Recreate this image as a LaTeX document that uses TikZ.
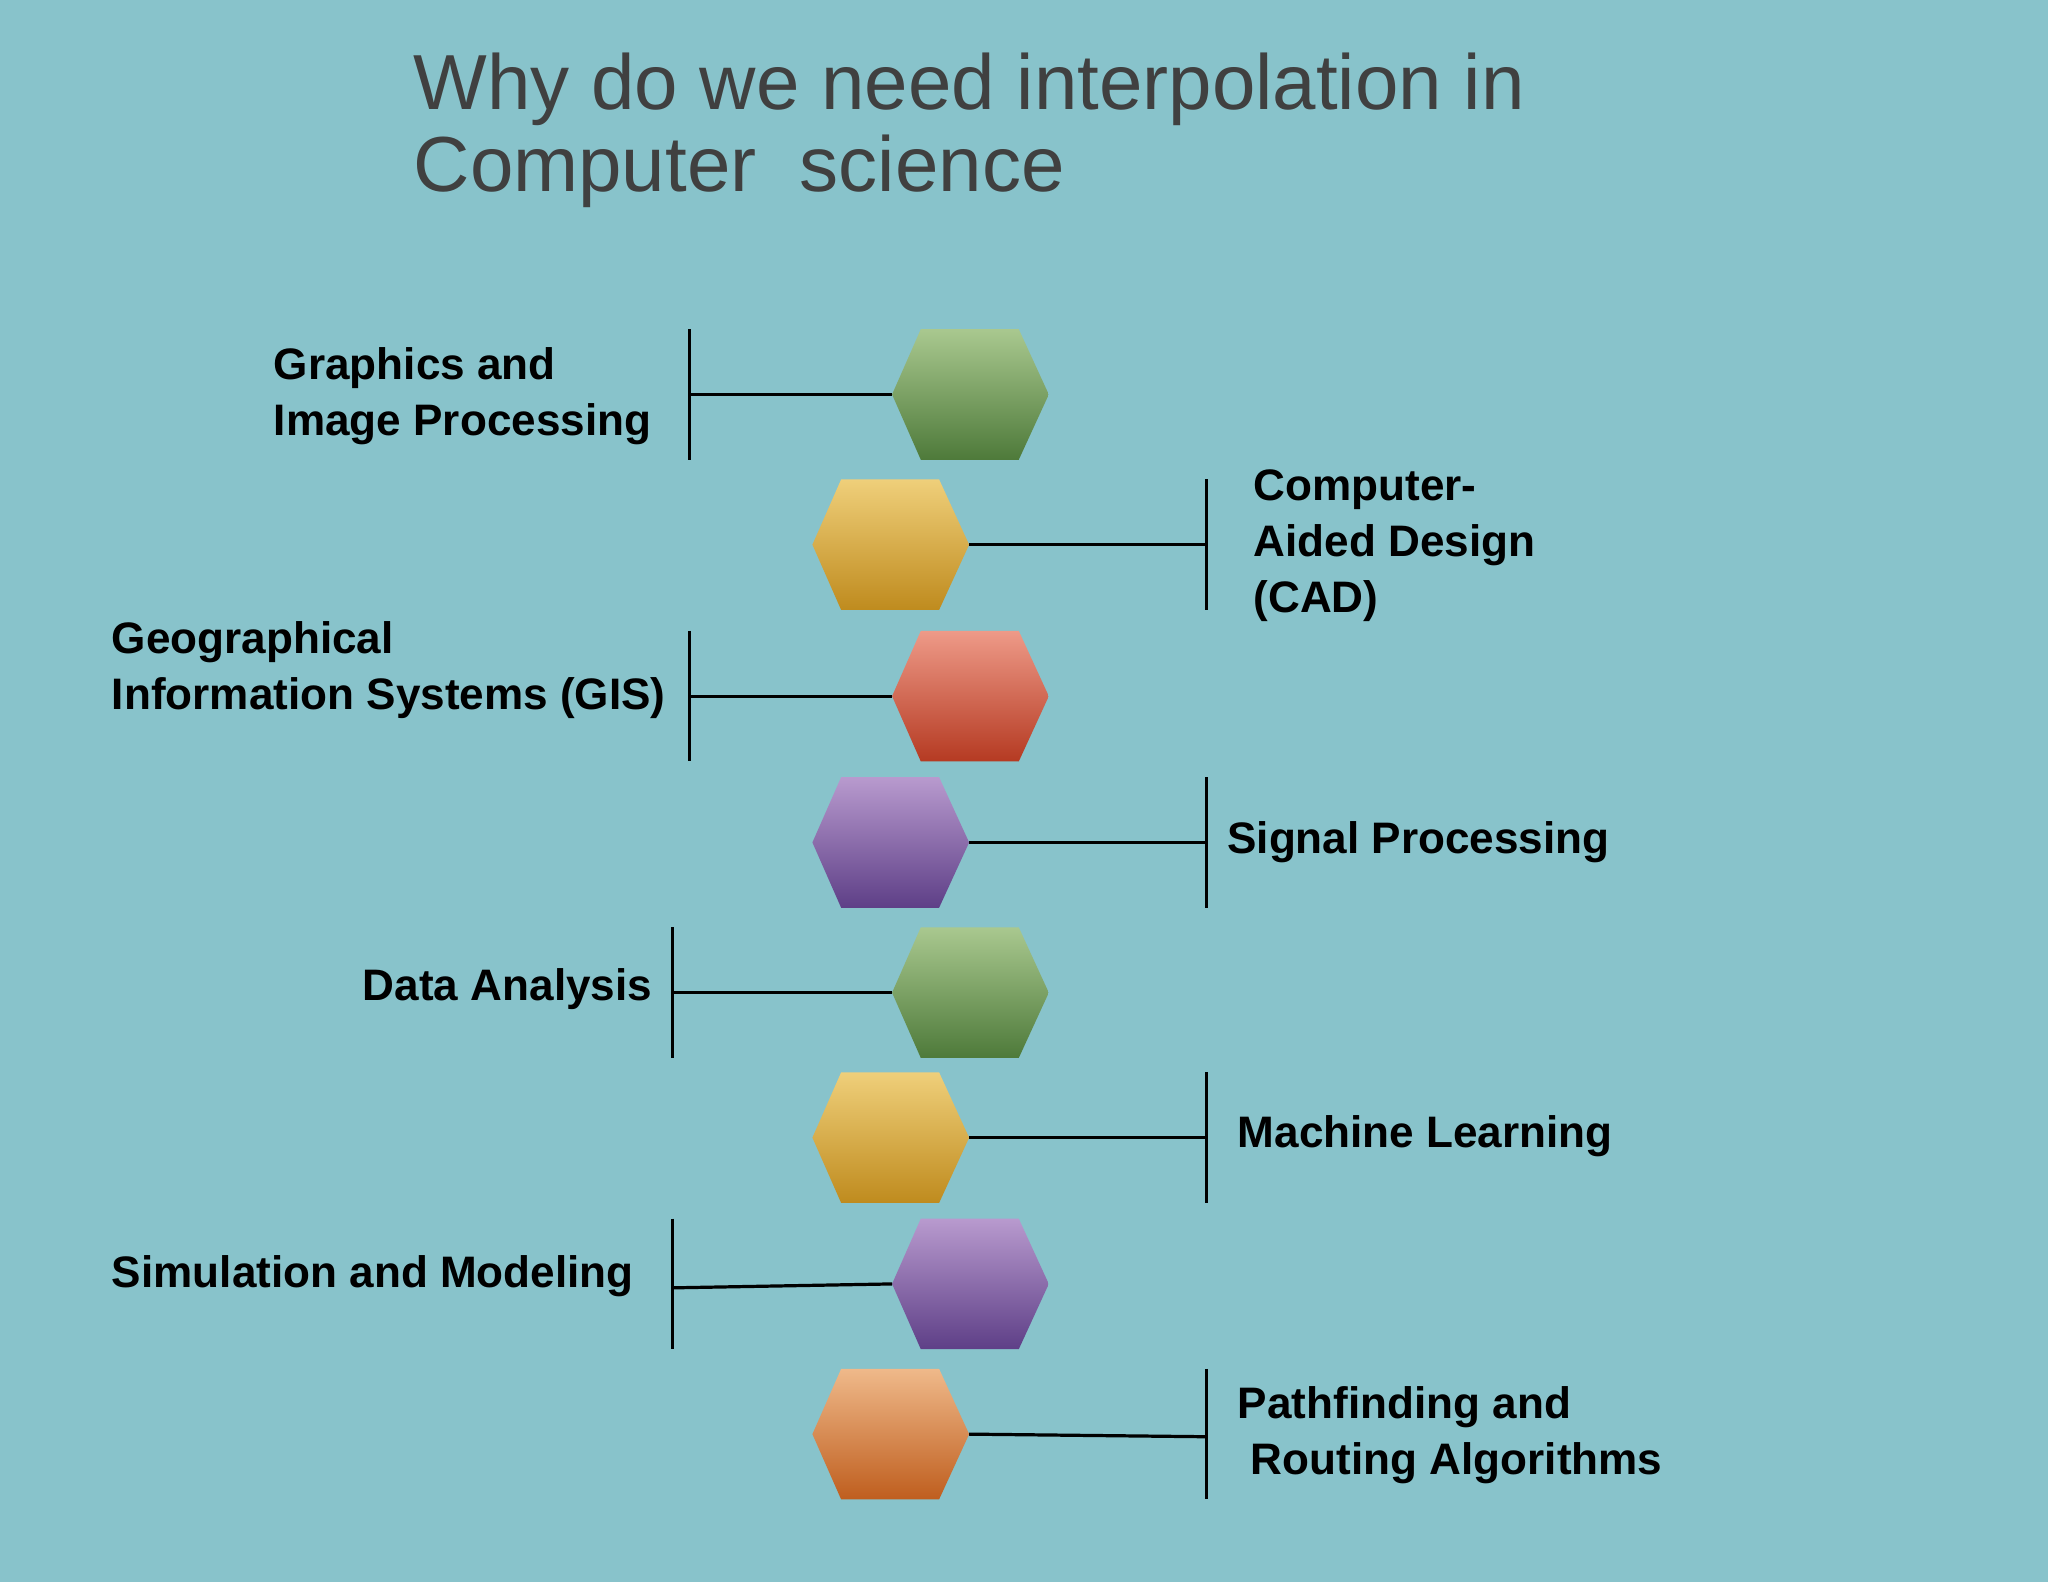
\documentclass[tikz,border=0pt]{standalone}
\usepackage{fontspec}
\setmainfont{Liberation Sans}
\definecolor{bg}{HTML}{88C3CB}
\definecolor{gT}{HTML}{A9C88F}\definecolor{gB}{HTML}{4E7A3A}
\definecolor{yT}{HTML}{EFCF7A}\definecolor{yB}{HTML}{BF8B1E}
\definecolor{rT}{HTML}{EE9A88}\definecolor{rB}{HTML}{B53A22}
\definecolor{pT}{HTML}{B89ACE}\definecolor{pB}{HTML}{5E3F87}
\definecolor{oT}{HTML}{EFB98A}\definecolor{oB}{HTML}{BF5E1E}
\definecolor{ttl}{HTML}{404040}
\tikzset{lab/.style={font=\bfseries\fontsize{9.6}{12.2}\selectfont,align=left,inner sep=0pt,anchor=west},
conn/.style={line width=0.7pt,black}}
\newcommand{\hexa}[4]{% name, x, y, color prefix
 \shade[top color=#4T,bottom color=#4B] (#2-60,-#3) -- (#2-38,-#3+50) -- (#2+37,-#3+50) -- (#2+60,-#3) -- (#2+37,-#3-50) -- (#2-38,-#3-50) -- cycle;
 \coordinate (#1L) at (#2-60,-#3); \coordinate (#1R) at (#2+60,-#3);}
\begin{document}
\begin{tikzpicture}[x=0.01cm,y=0.01cm]
\fill[bg] (0,0) rectangle (1568,-1211);
\useasboundingbox (0,0) rectangle (1568,-1211);
\node[anchor=north west,inner sep=0pt,align=left,text=ttl,font=\fontsize{17}{17.9}\selectfont] (title) at (316,-40) {Why do we need interpolation in\\Computer\ \ science};
\hexa{h1}{743}{302}{g}
\hexa{h2}{682}{417}{y}
\hexa{h3}{743}{533}{r}
\hexa{h4}{682}{645}{p}
\hexa{h5}{743}{760}{g}
\hexa{h6}{682}{871}{y}
\hexa{h7}{743}{983}{p}
\hexa{h8}{682}{1098}{o}
% bars
\coordinate (b1) at (528,-302); \draw[conn] (528,-252) -- (528,-352); \draw[conn] (b1) -- (h1L);
\coordinate (b2) at (924,-417); \draw[conn] (924,-367) -- (924,-467); \draw[conn] (h2R) -- (b2);
\coordinate (b3) at (528,-533); \draw[conn] (528,-483) -- (528,-583); \draw[conn] (b3) -- (h3L);
\coordinate (b4) at (924,-645); \draw[conn] (924,-595) -- (924,-695); \draw[conn] (h4R) -- (b4);
\coordinate (b5) at (515,-760); \draw[conn] (515,-710) -- (515,-810); \draw[conn] (b5) -- (h5L);
\coordinate (b6) at (924,-871); \draw[conn] (924,-821) -- (924,-921); \draw[conn] (h6R) -- (b6);
\coordinate (b7) at (515,-986); \draw[conn] (515,-933) -- (515,-1033); \draw[conn] (b7) -- (h7L);
\coordinate (b8) at (924,-1100); \draw[conn] (924,-1048) -- (924,-1148); \draw[conn] (h8R) -- (b8);
% labels
\node[lab] (t1) at (209,-303) {Graphics and\\Image Processing};
\node[lab] (t2) at (959,-418) {Computer-\\Aided Design\\(CAD)};
\node[lab] (t3) at (85,-513) {Geographical\\Information Systems (GIS)};
\node[lab] (t4) at (939,-645) {Signal Processing};
\node[lab,anchor=east] (t5) at (500,-757) {Data Analysis};
\node[lab] (t6) at (947,-870) {Machine Learning};
\node[lab] (t7) at (85,-977) {Simulation and Modeling};
\node[lab] (t8) at (947,-1099) {Pathfinding and\\\hspace*{0.1cm}Routing Algorithms};
\end{tikzpicture}
\end{document}
